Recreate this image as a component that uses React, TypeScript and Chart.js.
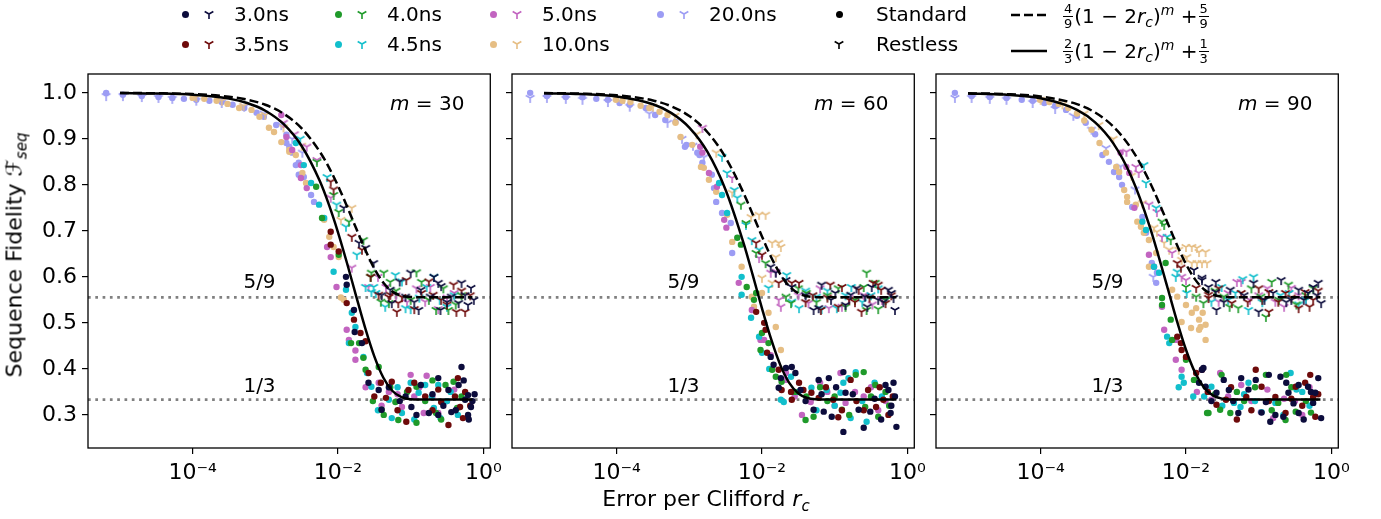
import React, { useEffect, useRef } from 'react';
import { Chart, registerables } from 'chart.js';
Chart.register(...registerables);

// ---------------- data ----------------
const GATE_TIMES = ['3.0ns', '3.5ns', '4.0ns', '4.5ns', '5.0ns', '10.0ns', '20.0ns'];
const GATE_COLORS = ['#0c0c3c', '#6e0a0a', '#1f9a2a', '#12bfcc', '#c264c0', '#e6be84', '#9c9cf4'];
const M_VALUES = [30, 60, 90];
const X_TICKS_LOG = [-4, -2, 0];
const X_TICK_LABELS = ['10⁻⁴', '10⁻²', '10⁰'];
const Y_TICKS = [0.3, 0.4, 0.5, 0.6, 0.7, 0.8, 0.9, 1.0];
const H_LINES = [5 / 9, 1 / 3];
const H_LINE_LABELS = ['5/9', '1/3'];

// theory curves sampled at log10(r_c)
const CURVE_LOG_R = [-5, -4.5, -4, -3.5, -3.25, -3, -2.75, -2.5, -2.25, -2.125, -2, -1.875, -1.75, -1.625, -1.5, -1.375, -1.25, -1.125, -1, -0.75, -0.5, -0.15];
const SOLID_M30 = [0.9996, 0.99873, 0.99601, 0.98747, 0.97787, 0.96114, 0.93241, 0.88445, 0.80816, 0.75697, 0.69697, 0.62962, 0.55828, 0.48852, 0.42722, 0.38074, 0.35193, 0.33843, 0.33416, 0.33333, 0.33333, 0.33333];
const DASHED_M30 = [0.99973, 0.99916, 0.99734, 0.99164, 0.98525, 0.97409, 0.95494, 0.92296, 0.87211, 0.83799, 0.79798, 0.75309, 0.70552, 0.65902, 0.61815, 0.58717, 0.56796, 0.55895, 0.55611, 0.55556, 0.55556, 0.55556];
const SOLID_M60 = [0.9992, 0.99747, 0.99205, 0.97517, 0.95647, 0.92455, 0.87169, 0.78893, 0.67153, 0.60254, 0.53169, 0.46501, 0.40927, 0.36946, 0.34656, 0.3367, 0.33385, 0.33337, 0.33333, 0.33333, 0.33333, 0.33333];
const DASHED_M60 = [0.99947, 0.99832, 0.9947, 0.98344, 0.97099, 0.9497, 0.91446, 0.85928, 0.78102, 0.73503, 0.68779, 0.64335, 0.60618, 0.57964, 0.56437, 0.55781, 0.55591, 0.55558, 0.55556, 0.55556, 0.55556, 0.55556];
const SOLID_M90 = [0.9988, 0.99621, 0.9881, 0.9631, 0.93579, 0.89008, 0.8171, 0.70996, 0.5742, 0.50439, 0.44154, 0.39185, 0.35895, 0.34174, 0.33519, 0.33357, 0.33333, 0.33333, 0.33333, 0.33333, 0.33333, 0.33333];
const DASHED_M90 = [0.9992, 0.99748, 0.99208, 0.9754, 0.9572, 0.92672, 0.87807, 0.80664, 0.71614, 0.6696, 0.6277, 0.59457, 0.57264, 0.56116, 0.5568, 0.55572, 0.55556, 0.55556, 0.55556, 0.55556, 0.55556, 0.55556];

// measured points: [log10(r_c), F_seq]
// ---- m = 30 ----
const M30_STD_3_0 = [[-1.89,.60],[-1.88,.583],[-1.78,.528],[-1.77,.48],[-1.67,.456],[-1.58,.37],[-1.44,.354],[-1.40,.311],[-1.30,.36],[-1.15,.33],[-1.07,.34],[-0.99,.317],[-0.92,.30],[-0.86,.365],[-0.75,.304],[-0.70,.345],[-0.62,.38],[-0.62,.30],[-0.55,.32],[-0.48,.354],[-0.44,.306],[-0.38,.31],[-0.34,.365],[-0.30,.404],[-0.27,.375],[-0.25,.333],[-0.21,.343],[-0.21,.30],[-0.20,.29],[-0.17,.317],[-0.15,.33],[-0.12,.345]];
const M30_RST_3_0 = [[-1.92,.75],[-1.71,.674],[-1.62,.663],[-1.51,.63],[-1.40,.56],[-1.28,.572],[-1.26,.543],[-1.15,.59],[-1.07,.557],[-1.00,.609],[-0.95,.545],[-0.89,.528],[-0.86,.572],[-0.73,.557],[-0.68,.60],[-0.62,.587],[-0.59,.528],[-0.58,.58],[-0.50,.545],[-0.44,.557],[-0.34,.543],[-0.30,.587],[-0.25,.56],[-0.21,.539],[-0.17,.576],[-0.13,.55]];
const M30_STD_3_5 = [[-2.10,.698],[-2.10,.67],[-1.99,.655],[-1.88,.543],[-1.78,.507],[-1.69,.478],[-1.62,.46],[-1.58,.391],[-1.50,.34],[-1.41,.37],[-1.34,.337],[-1.26,.372],[-1.18,.31],[-1.06,.285],[-1.03,.354],[-0.95,.37],[-0.80,.34],[-0.70,.31],[-0.62,.355],[-0.58,.328],[-0.48,.278],[-0.39,.34],[-0.35,.38],[-0.32,.317],[-0.28,.293],[-0.25,.35],[-0.18,.32]];
const M30_RST_3_5 = [[-2.10,.807],[-2.06,.79],[-1.81,.687],[-1.67,.659],[-1.55,.60],[-1.44,.561],[-1.30,.556],[-1.28,.561],[-1.19,.524],[-1.17,.543],[-1.12,.556],[-1.06,.593],[-0.95,.53],[-0.85,.565],[-0.75,.59],[-0.69,.561],[-0.58,.55],[-0.50,.54],[-0.41,.583],[-0.37,.524],[-0.30,.57],[-0.25,.524],[-0.18,.56]];
const M30_STD_4_0 = [[-2.30,.796],[-2.22,.728],[-1.99,.648],[-1.82,.456],[-1.71,.456],[-1.65,.424],[-1.62,.398],[-1.52,.33],[-1.44,.404],[-1.40,.311],[-1.37,.30],[-1.28,.36],[-1.21,.328],[-1.17,.289],[-1.05,.35],[-0.92,.283],[-0.92,.361],[-0.80,.33],[-0.70,.375],[-0.65,.304],[-0.58,.29],[-0.52,.365],[-0.41,.372],[-0.36,.315],[-0.30,.34]];
const M30_RST_4_0 = [[-2.29,.85],[-2.06,.778],[-1.99,.741],[-1.85,.72],[-1.65,.68],[-1.55,.60],[-1.54,.609],[-1.41,.546],[-1.37,.609],[-1.30,.543],[-1.28,.589],[-1.20,.57],[-1.00,.55],[-0.92,.61],[-0.85,.589],[-0.75,.55],[-0.65,.528],[-0.55,.575],[-0.48,.528],[-0.38,.54],[-0.30,.56]];
const M30_STD_4_5 = [[-2.58,.891],[-2.47,.843],[-2.37,.804],[-2.26,.757],[-2.19,.728],[-2.06,.611],[-1.89,.572],[-1.85,.456],[-1.81,.522],[-1.76,.491],[-1.65,.426],[-1.60,.391],[-1.54,.361],[-1.45,.31],[-1.30,.333],[-1.26,.293],[-1.18,.36],[-1.12,.304],[-1.00,.37],[-0.95,.29],[-0.89,.348],[-0.80,.365],[-0.71,.34],[-0.68,.315],[-0.62,.365],[-0.59,.293],[-0.50,.33],[-0.45,.35],[-0.35,.30]];
const M30_RST_4_5 = [[-2.52,.90],[-2.15,.817],[-2.02,.757],[-1.89,.709],[-1.74,.648],[-1.62,.578],[-1.54,.567],[-1.51,.578],[-1.48,.565],[-1.35,.535],[-1.21,.604],[-1.12,.59],[-1.07,.532],[-1.00,.53],[-0.88,.555],[-0.78,.578],[-0.68,.60],[-0.60,.55],[-0.50,.535],[-0.40,.56]];
const M30_STD_5_0 = [[-2.78,.952],[-2.71,.904],[-2.63,.876],[-2.51,.843],[-2.51,.815],[-2.43,.793],[-2.15,.665],[-2.10,.643],[-2.02,.578],[-1.88,.485],[-1.85,.463],[-1.76,.44],[-1.76,.42],[-1.62,.36],[-1.44,.37],[-1.40,.32],[-1.30,.35],[-1.18,.345],[-1.12,.317],[-1.00,.387],[-0.95,.34],[-0.88,.36],[-0.82,.304],[-0.78,.385],[-0.70,.34],[-0.62,.304],[-0.50,.33],[-0.40,.355]];
const M30_RST_5_0 = [[-2.75,.935],[-2.60,.91],[-2.43,.883],[-2.29,.854],[-2.10,.772],[-1.81,.62],[-1.58,.578],[-1.45,.60],[-1.34,.578],[-1.20,.56],[-1.05,.545],[-0.92,.575],[-0.80,.546],[-0.73,.578],[-0.62,.53],[-0.50,.555],[-0.40,.565]];
const M30_STD_10 = [[-4.00,.989],[-3.84,.987],[-3.67,.983],[-3.52,.976],[-3.36,.967],[-3.19,.963],[-3.08,.948],[-2.95,.924],[-2.88,.915],[-2.78,.893],[-2.67,.876],[-2.67,.872],[-2.58,.865],[-2.49,.826],[-2.44,.804],[-2.19,.724],[-2.12,.687],[-2.06,.665],[-1.99,.643],[-1.96,.555],[-1.92,.55]];
const M30_RST_10 = [[-3.95,.991],[-3.60,.983],[-3.30,.972],[-3.00,.952],[-2.75,.925],[-2.50,.885],[-1.96,.724],[-1.81,.75]];
const M30_STD_20 = [[-5.19,1.0],[-4.96,.996],[-4.70,.993],[-4.47,.991],[-4.28,.989],[-4.12,.987],[-3.95,.985],[-3.77,.983],[-3.60,.98],[-3.45,.974],[-3.29,.967],[-3.12,.957],[-3.02,.948],[-2.85,.930],[-2.71,.909],[-2.71,.891],[-2.67,.883],[-2.63,.87],[-2.58,.843],[-2.54,.848],[-2.54,.822],[-2.47,.817],[-2.37,.778],[-2.33,.763]];
const M30_RST_20 = [[-5.19,.993],[-4.96,.993],[-4.70,.991],[-4.47,.989],[-4.28,.987],[-3.95,.983],[-3.60,.978],[-3.29,.97],[-3.02,.955],[-2.78,.93],[-2.63,.90],[-2.49,.87]];
// ---- m = 60 ----
const M60_STD_3_0 = [[-1.88,.426],[-1.84,.409],[-1.77,.359],[-1.74,.38],[-1.67,.402],[-1.59,.404],[-1.54,.391],[-1.47,.354],[-1.40,.33],[-1.29,.311],[-1.22,.376],[-1.18,.345],[-1.15,.307],[-1.08,.38],[-1.04,.296],[-0.98,.36],[-0.88,.393],[-0.88,.263],[-0.85,.348],[-0.75,.345],[-0.67,.311],[-0.60,.272],[-0.51,.307],[-0.45,.335],[-0.36,.29],[-0.30,.365],[-0.26,.354],[-0.23,.304],[-0.22,.32],[-0.19,.37],[-0.17,.34],[-0.15,.274]];
const M60_RST_3_0 = [[-1.88,.622],[-1.81,.609],[-1.67,.593],[-1.59,.578],[-1.40,.56],[-1.29,.528],[-1.22,.532],[-1.18,.583],[-1.05,.55],[-0.99,.565],[-0.85,.539],[-0.78,.561],[-0.70,.575],[-0.58,.557],[-0.55,.535],[-0.49,.578],[-0.40,.55],[-0.33,.545],[-0.26,.572],[-0.22,.565],[-0.19,.554],[-0.17,.528]];
const M60_STD_3_5 = [[-2.08,.524],[-1.97,.50],[-1.95,.485],[-1.93,.435],[-1.77,.398],[-1.73,.354],[-1.60,.35],[-1.59,.333],[-1.49,.37],[-1.43,.354],[-1.32,.348],[-1.22,.337],[-1.12,.36],[-1.02,.333],[-0.95,.295],[-0.90,.31],[-0.78,.376],[-0.70,.33],[-0.60,.31],[-0.54,.354],[-0.43,.317],[-0.38,.36],[-0.33,.333],[-0.26,.30],[-0.20,.34]];
const M60_RST_3_5 = [[-2.08,.674],[-2.00,.648],[-1.77,.587],[-1.59,.587],[-1.49,.587],[-1.40,.545],[-1.30,.56],[-1.19,.528],[-1.10,.555],[-1.06,.583],[-0.95,.535],[-0.90,.578],[-0.80,.55],[-0.72,.545],[-0.67,.572],[-0.63,.524],[-0.52,.555],[-0.47,.587],[-0.40,.583],[-0.36,.572],[-0.30,.543],[-0.22,.56]];
const M60_STD_4_0 = [[-2.34,.685],[-2.29,.67],[-2.21,.578],[-2.11,.55],[-2.08,.565],[-2.02,.441],[-2.00,.478],[-1.91,.456],[-1.86,.398],[-1.81,.383],[-1.73,.372],[-1.55,.35],[-1.40,.289],[-1.39,.34],[-1.29,.296],[-1.20,.36],[-1.10,.33],[-1.00,.34],[-0.90,.311],[-0.80,.30],[-0.71,.387],[-0.60,.393],[-0.58,.317],[-0.50,.34],[-0.44,.365],[-0.40,.296],[-0.30,.35],[-0.25,.32]];
const M60_RST_4_0 = [[-2.29,.757],[-2.22,.717],[-2.08,.652],[-1.95,.63],[-1.67,.557],[-1.60,.543],[-1.50,.575],[-1.39,.565],[-1.25,.545],[-1.10,.56],[-0.95,.575],[-0.85,.535],[-0.72,.55],[-0.60,.578],[-0.56,.609],[-0.56,.528],[-0.44,.587],[-0.40,.53],[-0.30,.55]];
const M60_STD_4_5 = [[-2.59,.804],[-2.55,.778],[-2.48,.739],[-2.28,.60],[-2.28,.561],[-2.15,.511],[-2.04,.47],[-2.00,.435],[-1.90,.40],[-1.74,.333],[-1.70,.328],[-1.60,.383],[-1.50,.35],[-1.32,.359],[-1.25,.31],[-1.11,.354],[-1.00,.32],[-0.92,.348],[-0.88,.37],[-0.81,.38],[-0.78,.293],[-0.71,.393],[-0.62,.33],[-0.56,.285],[-0.45,.37],[-0.35,.34]];
const M60_RST_4_5 = [[-2.55,.861],[-2.48,.826],[-2.38,.789],[-2.34,.772],[-2.22,.713],[-2.14,.68],[-2.04,.659],[-1.91,.576],[-1.66,.604],[-1.59,.546],[-1.49,.532],[-1.40,.57],[-1.25,.557],[-1.18,.53],[-1.10,.57],[-0.97,.532],[-0.85,.56],[-0.77,.578],[-0.62,.545],[-0.50,.56],[-0.40,.575],[-0.30,.55]];
const M60_STD_5_0 = [[-2.85,.883],[-2.82,.87],[-2.73,.826],[-2.62,.796],[-2.52,.724],[-2.49,.707],[-2.32,.587],[-2.14,.528],[-2.02,.463],[-1.97,.463],[-1.88,.43],[-1.67,.391],[-1.67,.376],[-1.55,.34],[-1.45,.30],[-1.33,.328],[-1.20,.37],[-1.10,.35],[-1.00,.32],[-0.92,.391],[-0.85,.326],[-0.72,.35],[-0.60,.34],[-0.50,.36],[-0.40,.31],[-0.30,.33]];
const M60_RST_5_0 = [[-2.82,.924],[-2.41,.815],[-2.04,.641],[-1.88,.609],[-1.81,.611],[-1.77,.55],[-1.74,.535],[-1.50,.56],[-1.36,.543],[-1.20,.575],[-1.08,.532],[-0.90,.535],[-0.80,.555],[-0.60,.56],[-0.48,.54],[-0.35,.55]];
const M60_STD_10 = [[-4.01,.985],[-3.92,.983],[-3.81,.98],[-3.67,.972],[-3.55,.967],[-3.41,.959],[-3.30,.952],[-3.19,.935],[-3.12,.904],[-2.96,.887],[-2.84,.839],[-2.80,.837],[-2.73,.811],[-2.63,.785],[-2.48,.735],[-2.41,.676],[-2.28,.622],[-2.14,.557],[-2.11,.535],[-2.00,.565],[-1.91,.522],[-1.81,.491],[-1.74,.441]];
const M60_RST_10 = [[-3.90,.987],[-3.50,.97],[-3.20,.95],[-2.90,.91],[-2.63,.87],[-2.41,.783],[-2.15,.73],[-2.04,.735],[-2.00,.598],[-1.95,.735],[-1.86,.674],[-1.86,.587],[-1.81,.643],[-1.77,.674],[-1.74,.665]];
const M60_STD_20 = [[-5.19,1.0],[-4.96,.993],[-4.70,.991],[-4.47,.991],[-4.28,.987],[-4.12,.985],[-3.96,.978],[-3.82,.974],[-3.60,.967],[-3.47,.952],[-3.33,.941],[-3.19,.937],[-3.06,.883],[-3.04,.887],[-2.89,.87],[-2.86,.865],[-2.82,.848],[-2.69,.822],[-2.66,.793],[-2.63,.763],[-2.55,.739],[-2.43,.717],[-2.41,.652]];
const M60_RST_20 = [[-5.19,.989],[-4.96,.989],[-4.70,.987],[-4.47,.985],[-4.12,.98],[-3.82,.97],[-3.55,.955],[-3.30,.935],[-3.10,.90],[-2.95,.885],[-2.80,.86]];
// ---- m = 90 ----
const M90_STD_3_0 = [[-1.82,.37],[-1.78,.398],[-1.76,.402],[-1.73,.361],[-1.65,.33],[-1.58,.348],[-1.48,.376],[-1.41,.354],[-1.35,.33],[-1.28,.304],[-1.24,.38],[-1.14,.355],[-1.04,.376],[-0.96,.305],[-0.90,.328],[-0.86,.387],[-0.84,.285],[-0.77,.30],[-0.70,.383],[-0.66,.296],[-0.62,.37],[-0.59,.348],[-0.52,.325],[-0.45,.365],[-0.45,.304],[-0.38,.29],[-0.32,.361],[-0.28,.35],[-0.25,.326],[-0.22,.348],[-0.18,.38],[-0.14,.293]];
const M90_RST_3_0 = [[-1.89,.615],[-1.78,.598],[-1.78,.593],[-1.69,.578],[-1.59,.567],[-1.59,.589],[-1.58,.528],[-1.48,.545],[-1.39,.572],[-1.20,.56],[-1.07,.587],[-1.00,.524],[-0.92,.55],[-0.80,.565],[-0.69,.593],[-0.62,.545],[-0.55,.55],[-0.45,.572],[-0.38,.55],[-0.32,.565],[-0.25,.578],[-0.20,.56],[-0.18,.587],[-0.14,.543]];
const M90_STD_3_5 = [[-2.12,.47],[-2.07,.456],[-2.06,.441],[-2.00,.426],[-1.86,.391],[-1.78,.398],[-1.70,.35],[-1.58,.322],[-1.45,.333],[-1.38,.36],[-1.30,.29],[-1.17,.339],[-1.10,.31],[-1.04,.398],[-0.96,.361],[-0.86,.33],[-0.77,.339],[-0.63,.304],[-0.55,.335],[-0.49,.361],[-0.40,.32],[-0.36,.37],[-0.29,.387],[-0.25,.339],[-0.22,.296],[-0.18,.345]];
const M90_RST_3_5 = [[-2.12,.63],[-2.07,.62],[-1.86,.576],[-1.69,.561],[-1.69,.554],[-1.55,.575],[-1.37,.543],[-1.24,.565],[-1.15,.545],[-1.00,.575],[-0.95,.55],[-0.86,.567],[-0.86,.524],[-0.73,.546],[-0.63,.565],[-0.55,.555],[-0.45,.532],[-0.36,.567],[-0.30,.535],[-0.25,.55],[-0.18,.57]];
const M90_STD_4_0 = [[-2.33,.554],[-2.33,.539],[-2.28,.63],[-2.21,.507],[-2.19,.463],[-2.00,.42],[-1.89,.376],[-1.71,.304],[-1.69,.304],[-1.60,.345],[-1.53,.311],[-1.51,.387],[-1.39,.304],[-1.30,.35],[-1.20,.33],[-1.05,.36],[-0.90,.387],[-0.82,.31],[-0.73,.326],[-0.63,.289],[-0.62,.387],[-0.55,.36],[-0.49,.307],[-0.35,.33],[-0.28,.305]];
const M90_RST_4_0 = [[-2.33,.72],[-2.30,.713],[-2.21,.68],[-2.00,.578],[-1.86,.557],[-1.76,.543],[-1.60,.57],[-1.48,.557],[-1.40,.535],[-1.28,.532],[-1.10,.575],[-0.97,.557],[-0.90,.513],[-0.82,.589],[-0.72,.55],[-0.59,.583],[-0.48,.54],[-0.35,.56],[-0.25,.575]];
const M90_STD_4_5 = [[-2.60,.72],[-2.55,.702],[-2.44,.622],[-2.37,.609],[-2.26,.47],[-2.23,.456],[-2.10,.36],[-2.06,.383],[-2.03,.37],[-1.90,.34],[-1.75,.34],[-1.65,.361],[-1.50,.32],[-1.34,.326],[-1.25,.317],[-1.20,.345],[-1.14,.37],[-1.05,.33],[-0.96,.306],[-0.77,.326],[-0.66,.30],[-0.56,.391],[-0.48,.355],[-0.40,.35],[-0.30,.32]];
const M90_RST_4_5 = [[-2.58,.843],[-2.55,.804],[-2.41,.75],[-2.26,.687],[-2.14,.60],[-2.12,.611],[-1.99,.565],[-1.65,.546],[-1.51,.578],[-1.42,.55],[-1.32,.565],[-1.22,.595],[-1.14,.528],[-1.07,.60],[-0.95,.545],[-0.70,.56],[-0.58,.565],[-0.45,.54],[-0.35,.55]];
const M90_STD_5_0 = [[-2.90,.87],[-2.82,.839],[-2.78,.826],[-2.71,.75],[-2.51,.648],[-2.44,.622],[-2.33,.535],[-2.30,.485],[-2.14,.463],[-2.14,.42],[-2.06,.398],[-1.85,.35],[-1.65,.333],[-1.53,.391],[-1.42,.34],[-1.24,.365],[-1.10,.33],[-0.97,.306],[-0.88,.355],[-0.80,.293],[-0.65,.335],[-0.50,.33],[-0.40,.30],[-0.30,.36]];
const M90_RST_5_0 = [[-2.82,.872],[-2.69,.839],[-2.65,.826],[-2.51,.757],[-2.40,.741],[-2.33,.687],[-2.19,.652],[-2.06,.60],[-2.00,.593],[-1.55,.546],[-1.42,.565],[-1.30,.589],[-1.24,.589],[-1.12,.55],[-1.00,.56],[-0.88,.575],[-0.77,.546],[-0.65,.535],[-0.55,.576],[-0.45,.56],[-0.35,.55]];
const M90_STD_10 = [[-4.01,.985],[-3.88,.98],[-3.75,.976],[-3.62,.967],[-3.50,.955],[-3.40,.94],[-3.30,.92],[-3.19,.891],[-3.10,.87],[-2.96,.839],[-2.92,.828],[-2.85,.789],[-2.81,.774],[-2.81,.763],[-2.69,.757],[-2.67,.72],[-2.62,.709],[-2.58,.696],[-2.51,.68],[-2.51,.622],[-2.41,.652],[-2.19,.572],[-2.12,.557],[-2.06,.502],[-2.00,.539],[-1.93,.489],[-1.92,.522],[-1.86,.532],[-1.82,.507],[-1.82,.485],[-1.80,.491],[-1.77,.522],[-1.73,.496],[-1.73,.463]];
const M90_RST_10 = [[-4.00,.985],[-3.70,.975],[-3.40,.955],[-3.20,.93],[-3.00,.90],[-2.75,.82],[-2.60,.76],[-2.44,.707],[-2.40,.698],[-2.30,.674],[-2.23,.659],[-2.10,.659],[-2.06,.637],[-2.00,.665],[-1.99,.643],[-1.92,.665],[-1.92,.63],[-1.85,.663],[-1.85,.63],[-1.82,.654],[-1.78,.63],[-1.73,.654],[-1.71,.63]];
const M90_STD_20 = [[-5.18,1.0],[-4.95,.993],[-4.70,.991],[-4.47,.989],[-4.26,.985],[-4.11,.983],[-3.95,.978],[-3.80,.972],[-3.65,.963],[-3.50,.95],[-3.38,.935],[-3.25,.91],[-3.15,.865],[-3.06,.85],[-2.99,.828],[-2.92,.817],[-2.88,.80],[-2.74,.752],[-2.60,.73],[-2.55,.696],[-2.47,.63],[-2.41,.587],[-2.40,.609]];
const M90_RST_20 = [[-5.18,.989],[-4.95,.989],[-4.70,.987],[-4.47,.985],[-4.11,.978],[-3.80,.965],[-3.55,.95],[-3.30,.92],[-3.10,.88],[-2.90,.84],[-2.70,.79],[-2.45,.60]];

const STANDARD = {
  30: [M30_STD_3_0, M30_STD_3_5, M30_STD_4_0, M30_STD_4_5, M30_STD_5_0, M30_STD_10, M30_STD_20],
  60: [M60_STD_3_0, M60_STD_3_5, M60_STD_4_0, M60_STD_4_5, M60_STD_5_0, M60_STD_10, M60_STD_20],
  90: [M90_STD_3_0, M90_STD_3_5, M90_STD_4_0, M90_STD_4_5, M90_STD_5_0, M90_STD_10, M90_STD_20],
};
const RESTLESS = {
  30: [M30_RST_3_0, M30_RST_3_5, M30_RST_4_0, M30_RST_4_5, M30_RST_5_0, M30_RST_10, M30_RST_20],
  60: [M60_RST_3_0, M60_RST_3_5, M60_RST_4_0, M60_RST_4_5, M60_RST_5_0, M60_RST_10, M60_RST_20],
  90: [M90_RST_3_0, M90_RST_3_5, M90_RST_4_0, M90_RST_4_5, M90_RST_5_0, M90_RST_10, M90_RST_20],
};
const SOLID = { 30: SOLID_M30, 60: SOLID_M60, 90: SOLID_M90 };
const DASHED = { 30: DASHED_M30, 60: DASHED_M60, 90: DASHED_M90 };

// ---------------- layout / style ----------------
const FONT_FAMILY = "'DejaVu Sans', sans-serif";
const TICK_PX = 22;
const LABEL_PX = 22;
const LEGEND_PX = 20;
const NOTE_PX = 20;
const FIG_W = 1381;
const FIG_H = 519;
const PLOT_TOP = 74;
const PLOT_BOTTOM = 448;
const PLOT_W = 404;
const PLOT_LEFTS = [88, 512, 936];
const X_MIN_LOG = -5.44;
const X_MAX_LOG = 0.096;
const Y_MIN = 0.228;
const Y_MAX = 1.041;

function makeTri(color: string) {
  const c = document.createElement('canvas');
  const s = 14;
  c.width = s;
  c.height = s;
  const ctx = c.getContext('2d')!;
  ctx.strokeStyle = color;
  ctx.lineWidth = 1.6;
  const cx = s / 2, cy = s / 2, r = 5;
  ctx.beginPath();
  ctx.moveTo(cx, cy); ctx.lineTo(cx, cy + r);
  ctx.moveTo(cx, cy); ctx.lineTo(cx - r * 0.866, cy - r * 0.5);
  ctx.moveTo(cx, cy); ctx.lineTo(cx + r * 0.866, cy - r * 0.5);
  ctx.stroke();
  return c;
}

const decorPlugin = {
  id: 'decor',
  beforeDatasetsDraw(chart: any) {
    const { ctx, chartArea, scales } = chart;
    ctx.save();
    ctx.strokeStyle = '#808080';
    ctx.lineWidth = 2.7;
    ctx.setLineDash([2.7, 4.6]);
    for (const v of H_LINES) {
      const py = scales.y.getPixelForValue(v);
      ctx.beginPath();
      ctx.moveTo(chartArea.left, py);
      ctx.lineTo(chartArea.right, py);
      ctx.stroke();
    }
    ctx.restore();
  },
  afterDatasetsDraw(chart: any, _args: any, opts: any) {
    const { ctx, chartArea, scales } = chart;
    const { left, right, top, bottom } = chartArea;
    ctx.save();
    ctx.fillStyle = '#000';
    ctx.font = `${NOTE_PX}px ${FONT_FAMILY}`;
    ctx.textAlign = 'center';
    ctx.textBaseline = 'alphabetic';
    const lx = scales.x.getPixelForValue(Math.pow(10, -3.08));
    H_LINES.forEach((v, i) => {
      const py = scales.y.getPixelForValue(v);
      ctx.fillText(H_LINE_LABELS[i], lx, py - (i === 0 ? 9 : 8));
    });
    ctx.textAlign = 'left';
    const mx = left + 302;
    const my = top + 36;
    ctx.font = `italic ${NOTE_PX}px ${FONT_FAMILY}`;
    ctx.fillText('m', mx, my);
    const mw = ctx.measureText('m').width;
    ctx.font = `${NOTE_PX}px ${FONT_FAMILY}`;
    ctx.fillText(' = ' + opts.m, mx + mw, my);
    ctx.strokeStyle = '#000';
    ctx.lineWidth = 1.3;
    ctx.strokeRect(left, top, right - left, bottom - top);
    ctx.restore();
  },
};

function Panel({ idx }: { idx: number }) {
  const ref = useRef<HTMLCanvasElement>(null);
  const m = M_VALUES[idx];
  const yAxisW = idx === 0 ? 88 : 14;
  const padR = 16;
  const left = PLOT_LEFTS[idx] - yAxisW;
  const width = yAxisW + PLOT_W + padR;

  useEffect(() => {
    const datasets: any[] = [];
    datasets.push({
      data: CURVE_LOG_R.map((lx, i) => ({ x: Math.pow(10, lx), y: DASHED[m][i] })),
      showLine: true, borderColor: '#000', borderWidth: 2.5, borderDash: [9, 4],
      pointRadius: 0, cubicInterpolationMode: 'monotone', order: 0,
    });
    datasets.push({
      data: CURVE_LOG_R.map((lx, i) => ({ x: Math.pow(10, lx), y: SOLID[m][i] })),
      showLine: true, borderColor: '#000', borderWidth: 2.5,
      pointRadius: 0, cubicInterpolationMode: 'monotone', order: 0,
    });
    GATE_TIMES.forEach((_, g) => {
      const color = GATE_COLORS[g];
      datasets.push({
        data: STANDARD[m][g].map(([lx, f]) => ({ x: Math.pow(10, lx), y: f })),
        pointStyle: 'circle', pointRadius: 3.2, backgroundColor: color, borderColor: color, borderWidth: 0,
        showLine: false, order: 1 + g * 2,
      });
      datasets.push({
        data: RESTLESS[m][g].map(([lx, f]) => ({ x: Math.pow(10, lx), y: f })),
        pointStyle: makeTri(color), pointRadius: 5, backgroundColor: color, borderColor: color,
        showLine: false, order: 2 + g * 2,
      });
    });

    const font = { family: FONT_FAMILY, size: TICK_PX };
    const chart = new Chart(ref.current!, {
      type: 'scatter',
      data: { datasets },
      plugins: [decorPlugin],
      options: {
        responsive: false,
        animation: false,
        events: [],
        layout: { padding: { top: PLOT_TOP, right: padR, left: 0, bottom: 0 } },
        plugins: { legend: { display: false }, tooltip: { enabled: false }, decor: { m } } as any,
        scales: {
          x: {
            type: 'logarithmic',
            min: Math.pow(10, X_MIN_LOG),
            max: Math.pow(10, X_MAX_LOG),
            afterBuildTicks: (s: any) => { s.ticks = X_TICKS_LOG.map((v) => ({ value: Math.pow(10, v) })); },
            afterFit: (s: any) => { s.height = FIG_H - PLOT_BOTTOM; },
            ticks: {
              autoSkip: false, maxRotation: 0, minRotation: 0, padding: 6, color: '#000', font,
              callback: (v: any) => {
                const lv = Math.log10(Number(v));
                const i = X_TICKS_LOG.findIndex((t) => Math.abs(t - lv) < 1e-6);
                return i >= 0 ? X_TICK_LABELS[i] : '';
              },
            },
            grid: { display: true, drawOnChartArea: false, drawTicks: true, tickLength: 6, color: '#000', lineWidth: 1.2 },
            border: { display: false },
          },
          y: {
            type: 'linear',
            min: Y_MIN,
            max: Y_MAX,
            afterBuildTicks: (s: any) => { s.ticks = Y_TICKS.map((v) => ({ value: v })); },
            afterFit: (s: any) => { s.width = yAxisW; },
            ticks: {
              padding: 5, color: '#000', font,
              callback: (v: any) => (idx === 0 ? Number(v).toFixed(1) : ''),
            },
            grid: { display: true, drawOnChartArea: false, drawTicks: true, tickLength: 6, color: '#000', lineWidth: 1.2 },
            border: { display: false },
          },
        },
      } as any,
    });
    return () => chart.destroy();
  }, []);

  return (
    <canvas
      ref={ref}
      width={width}
      height={FIG_H}
      style={{ position: 'absolute', left, top: 0, width, height: FIG_H }}
    />
  );
}

const textStyle: any = {
  position: 'absolute', fontFamily: FONT_FAMILY, fontSize: LEGEND_PX, lineHeight: '22px',
  whiteSpace: 'nowrap', color: '#000',
};

function Dot({ x, y, color }: any) {
  return <div style={{ position: 'absolute', left: x - 3.5, top: y - 3.5, width: 7, height: 7, borderRadius: '50%', background: color }} />;
}
function Tri({ x, y, color }: any) {
  return (
    <svg width={14} height={14} style={{ position: 'absolute', left: x - 7, top: y - 7 }}>
      <path d="M7 7 L7 12 M7 7 L2.67 4.5 M7 7 L11.33 4.5" stroke={color} strokeWidth={1.6} fill="none" />
    </svg>
  );
}
function Frac({ n, d }: any) {
  return (
    <span style={{ display: 'inline-flex', flexDirection: 'column', alignItems: 'center', fontSize: 13, lineHeight: '12px', margin: '0 1px' }}>
      <span style={{ borderBottom: '1px solid #000', padding: '0 1px 1px 1px' }}>{n}</span>
      <span style={{ padding: '1px 1px 0 1px' }}>{d}</span>
    </span>
  );
}
function Formula({ a, b, c, d, x, y }: any) {
  return (
    <div style={{ ...textStyle, left: x, top: y - 17, height: 34, display: 'flex', alignItems: 'center' }}>
      <Frac n={a} d={b} />
      <span>
        (1 − 2<i>r</i><sub style={{ fontSize: 14, fontStyle: 'italic', verticalAlign: '-4px' }}>c</sub>)
        <sup style={{ fontSize: 14, fontStyle: 'italic', verticalAlign: '8px' }}>m</sup>{' + '}
      </span>
      <Frac n={c} d={d} />
    </div>
  );
}

function Legend() {
  const colX = [185, 338, 493, 660];
  const rowY = [14, 44];
  const items = GATE_TIMES.map((label, g) => {
    const col = Math.floor(g / 2);
    const row = g % 2;
    const x = colX[col];
    const y = rowY[row];
    return (
      <React.Fragment key={label}>
        <Dot x={x} y={y} color={GATE_COLORS[g]} />
        <Tri x={x + 24} y={y} color={GATE_COLORS[g]} />
        <div style={{ ...textStyle, left: x + 49, top: y - 11 }}>{label}</div>
      </React.Fragment>
    );
  });
  return (
    <>
      {items}
      <Dot x={839} y={14} color="#000" />
      <div style={{ ...textStyle, left: 876, top: 14 - 11 }}>Standard</div>
      <Tri x={839} y={44} color="#000" />
      <div style={{ ...textStyle, left: 876, top: 44 - 11 }}>Restless</div>
      <svg width={40} height={80} style={{ position: 'absolute', left: 1010, top: 0 }}>
        <line x1={1} y1={15} x2={37} y2={15} stroke="#000" strokeWidth={2.5} strokeDasharray="9 4" />
        <line x1={1} y1={51} x2={37} y2={51} stroke="#000" strokeWidth={2.5} />
      </svg>
      <Formula a="4" b="9" c="5" d="9" x={1062} y={16} />
      <Formula a="2" b="3" c="1" d="3" x={1062} y={51} />
    </>
  );
}

export default function App() {
  const sub = { fontSize: 15, fontStyle: 'italic', verticalAlign: '-5px' } as any;
  return (
    <div style={{ position: 'absolute', left: 0, top: 0, width: FIG_W, height: FIG_H, background: '#fff', overflow: 'hidden', fontFamily: FONT_FAMILY }}>
      {[0, 1, 2].map((i) => <Panel key={i} idx={i} />)}
      <Legend />
      <div style={{ ...textStyle, fontSize: LABEL_PX, lineHeight: '26px', left: 18, top: 255, transform: 'translate(-50%, -50%) rotate(-90deg)' }}>
        Sequence Fidelity <i>ℱ</i><sub style={sub}>seq</sub>
      </div>
      <div style={{ ...textStyle, fontSize: LABEL_PX, lineHeight: '26px', left: 706, top: 502, transform: 'translate(-50%, -50%)' }}>
        Error per Clifford <i>r</i><sub style={sub}>c</sub>
      </div>
    </div>
  );
}
